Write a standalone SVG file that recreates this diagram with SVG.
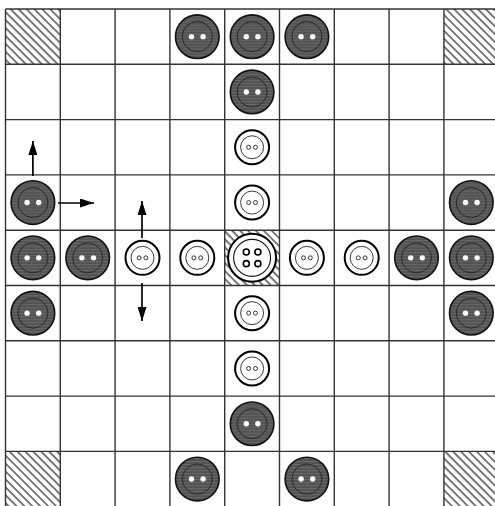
<svg xmlns="http://www.w3.org/2000/svg" width="495" height="506" viewBox="0 0 495 506">
<style>
.grid line{stroke:#333;stroke-width:1.4}
.arr{stroke:#000;stroke-width:1.7;fill:none}
</style>
<defs>
<pattern id="hatch" patternUnits="userSpaceOnUse" width="5.6" height="10" patternTransform="rotate(-45)">
<line x1="1" y1="0" x2="1" y2="10" stroke="#111" stroke-width="1.1"/>
</pattern>
<pattern id="stripes" patternUnits="userSpaceOnUse" width="10" height="3">
<rect width="10" height="3" fill="#505050"/>
<rect width="10" height="1.2" fill="#676767"/>
</pattern>
<marker id="ah" markerWidth="14" markerHeight="9" refX="14" refY="4.5" orient="auto" markerUnits="userSpaceOnUse">
<path d="M0,0 L14,4.5 L0,9 Z" fill="#000"/>
</marker>
<g id="black">
<circle r="21.8" fill="url(#stripes)" stroke="#111" stroke-width="1.6"/>
<circle r="15" fill="none" stroke="#222" stroke-width="0.9"/>
<circle cx="-5.8" r="2.7" fill="#fff"/>
<circle cx="5.8" r="2.7" fill="#fff"/>
</g>
<g id="white">
<circle r="17" fill="#fff" stroke="#000" stroke-width="2"/>
<circle r="11.5" fill="none" stroke="#222" stroke-width="0.9"/>
<circle cx="-3.4" r="2" fill="none" stroke="#222" stroke-width="0.9"/>
<circle cx="3.4" r="2" fill="none" stroke="#222" stroke-width="0.9"/>
</g>
<g id="king">
<circle r="24" fill="#fff" stroke="#000" stroke-width="2"/>
<circle r="18.5" fill="none" stroke="#111" stroke-width="1.1"/>
<circle cx="-5.8" cy="-5.8" r="3" fill="none" stroke="#000" stroke-width="1.6"/>
<circle cx="5.8" cy="-5.8" r="3" fill="none" stroke="#000" stroke-width="1.6"/>
<circle cx="-5.8" cy="5.8" r="3" fill="none" stroke="#000" stroke-width="1.6"/>
<circle cx="5.8" cy="5.8" r="3" fill="none" stroke="#000" stroke-width="1.6"/>
</g>
</defs>
<rect width="495" height="506" fill="#fff"/>
<g id="hatched-cells">
<rect x="5.5" y="9" width="54.8" height="55.3" fill="url(#hatch)"/>
<rect x="443.9" y="9" width="54.8" height="55.3" fill="url(#hatch)"/>
<rect x="5.5" y="451.4" width="54.8" height="55.3" fill="url(#hatch)"/>
<rect x="443.9" y="451.4" width="54.8" height="55.3" fill="url(#hatch)"/>
<rect x="224.7" y="230.6" width="54.8" height="55.3" fill="url(#hatch)"/>
</g>
<g class="grid" id="grid">
<line x1="5.5" y1="9" x2="5.5" y2="506"/>
<line x1="60.3" y1="9" x2="60.3" y2="506"/>
<line x1="115.1" y1="9" x2="115.1" y2="506"/>
<line x1="169.9" y1="9" x2="169.9" y2="506"/>
<line x1="224.7" y1="9" x2="224.7" y2="506"/>
<line x1="279.5" y1="9" x2="279.5" y2="506"/>
<line x1="334.3" y1="9" x2="334.3" y2="506"/>
<line x1="389.1" y1="9" x2="389.1" y2="506"/>
<line x1="443.9" y1="9" x2="443.9" y2="506"/>
<line x1="5.5" y1="9" x2="495" y2="9"/>
<line x1="5.5" y1="64.3" x2="495" y2="64.3"/>
<line x1="5.5" y1="119.6" x2="495" y2="119.6"/>
<line x1="5.5" y1="174.9" x2="495" y2="174.9"/>
<line x1="5.5" y1="230.2" x2="495" y2="230.2"/>
<line x1="5.5" y1="285.5" x2="495" y2="285.5"/>
<line x1="5.5" y1="340.8" x2="495" y2="340.8"/>
<line x1="5.5" y1="396.1" x2="495" y2="396.1"/>
<line x1="5.5" y1="451.4" x2="495" y2="451.4"/>
</g>
<g id="connectors">
<line class="arr" x1="32.9" y1="176" x2="32.9" y2="141" marker-end="url(#ah)"/>
<line class="arr" x1="58" y1="203" x2="94" y2="203" marker-end="url(#ah)"/>
<line class="arr" x1="142" y1="238" x2="142" y2="201" marker-end="url(#ah)"/>
<line class="arr" x1="142" y1="283" x2="142" y2="321" marker-end="url(#ah)"/>
</g>
<g id="piece-b-3-0"><use href="#black" x="197.3" y="36.65"/></g>
<g id="piece-b-4-0"><use href="#black" x="252.1" y="36.65"/></g>
<g id="piece-b-5-0"><use href="#black" x="306.9" y="36.65"/></g>
<g id="piece-b-4-1"><use href="#black" x="252.1" y="91.95"/></g>
<g id="piece-w-4-2"><use href="#white" x="252.1" y="147.25"/></g>
<g id="piece-b-0-3"><use href="#black" x="32.9" y="202.55"/></g>
<g id="piece-w-4-3"><use href="#white" x="252.1" y="202.55"/></g>
<g id="piece-b-8-3"><use href="#black" x="471.3" y="202.55"/></g>
<g id="piece-b-0-4"><use href="#black" x="32.9" y="257.85"/></g>
<g id="piece-b-1-4"><use href="#black" x="87.7" y="257.85"/></g>
<g id="piece-w-2-4"><use href="#white" x="142.5" y="257.85"/></g>
<g id="piece-w-3-4"><use href="#white" x="197.3" y="257.85"/></g>
<g id="piece-king"><use href="#king" x="252.1" y="257.85"/></g>
<g id="piece-w-5-4"><use href="#white" x="306.9" y="257.85"/></g>
<g id="piece-w-6-4"><use href="#white" x="361.7" y="257.85"/></g>
<g id="piece-b-7-4"><use href="#black" x="416.5" y="257.85"/></g>
<g id="piece-b-8-4"><use href="#black" x="471.3" y="257.85"/></g>
<g id="piece-b-0-5"><use href="#black" x="32.9" y="313.15"/></g>
<g id="piece-w-4-5"><use href="#white" x="252.1" y="313.15"/></g>
<g id="piece-b-8-5"><use href="#black" x="471.3" y="313.15"/></g>
<g id="piece-w-4-6"><use href="#white" x="252.1" y="368.45"/></g>
<g id="piece-b-4-7"><use href="#black" x="252.1" y="423.75"/></g>
<g id="piece-b-3-8"><use href="#black" x="197.3" y="479.05"/></g>
<g id="piece-b-5-8"><use href="#black" x="306.9" y="479.05"/></g>
</svg>
